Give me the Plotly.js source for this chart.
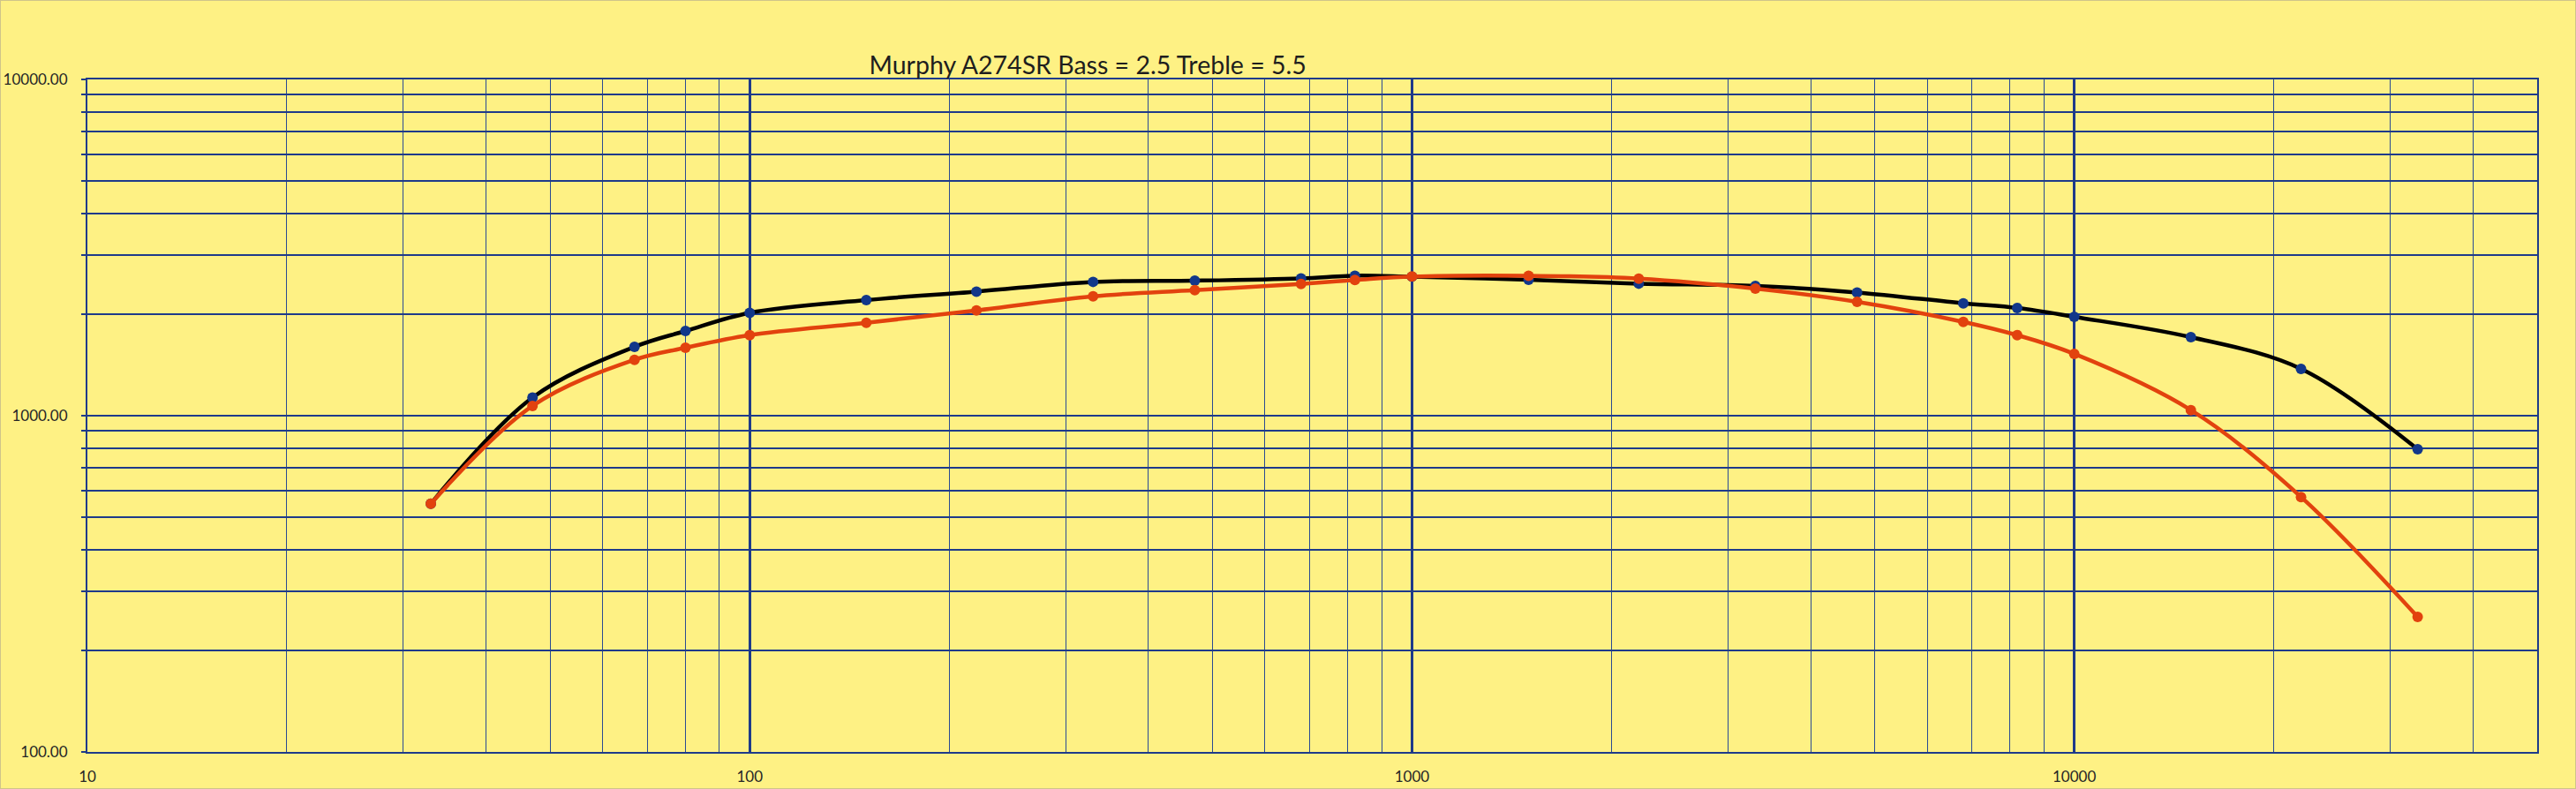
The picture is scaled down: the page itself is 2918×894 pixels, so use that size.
<!DOCTYPE html>
<html>
<head>
<meta charset="utf-8">
<script src="https://cdn.plot.ly/plotly-3.0.1.min.js"></script>
<style>
  html, body { margin: 0; padding: 0; background: #FEF184; }
  #wrap { width: 2916px; height: 892px; border: 1px solid #CFC58A; }
  #chart { width: 2916px; height: 892px; }
</style>
</head>
<body>
<div id="wrap"><div id="chart"></div></div>
<script>
// Frequency (Hz)
const freq = [33, 47, 67, 80, 100, 150, 220, 330, 470, 680, 820, 1000, 1500, 2200, 3300, 4700, 6800, 8200, 10000, 15000, 22000, 33000];
// Series 1 (black line, blue markers)
const seriesBlack = [547, 1132, 1602, 1786, 2023, 2207, 2339, 2500, 2521, 2561, 2608, 2590, 2537, 2470, 2432, 2325, 2159, 2091, 1968, 1712, 1378, 795];
// Series 2 (orange)
const seriesOrange = [547, 1069, 1466, 1592, 1736, 1890, 2057, 2265, 2363, 2466, 2531, 2593, 2608, 2557, 2388, 2181, 1901, 1736, 1527, 1039, 573, 252];

const titleText = 'Murphy A274SR Bass = 2.5 Treble = 5.5';

const gridColor = '#1E3A8A';
const fontFam = 'Lato, "Open Sans", sans-serif';

const traces = [
  {
    x: freq, y: seriesBlack, type: 'scatter', mode: 'lines+markers',
    line: { color: '#000000', width: 4.5, shape: 'spline', smoothing: 1 },
    marker: { color: '#12378A', size: 12 },
    showlegend: false, hoverinfo: 'x+y'
  },
  {
    x: freq, y: seriesOrange, type: 'scatter', mode: 'lines+markers',
    line: { color: '#E2420E', width: 4.5, shape: 'spline', smoothing: 1 },
    marker: { color: '#E2420E', size: 12 },
    showlegend: false, hoverinfo: 'x+y'
  }
];

const layout = {
  width: 2916, height: 892,
  paper_bgcolor: '#FEF184',
  plot_bgcolor: '#FEF184',
  margin: { l: 98, r: 43, t: 89, b: 41, pad: 0 },
  font: { family: fontFam, color: '#262626', size: 17 },
  title: {
    text: titleText,
    font: { family: fontFam, size: 28.5, color: '#1E1E1E' },
    x: 0.4222, xanchor: 'center', xref: 'container',
    y: 0.918, yanchor: 'middle', yref: 'container'
  },
  xaxis: {
    type: 'log',
    range: [1, Math.log10(50000)],
    dtick: 1,
    tickvals: [10, 100, 1000, 10000],
    ticktext: ['10', '100', '1000', '10000'],
    showgrid: true, gridcolor: gridColor, gridwidth: 3,
    minor: { dtick: 'D1', showgrid: true, gridcolor: '#2A4A93', gridwidth: 1, ticks: '' },
    ticks: '', ticklabelstandoff: 12,
    showline: true, linecolor: gridColor, linewidth: 2, mirror: true,
    zeroline: false,
    tickfont: { family: fontFam, size: 17, color: '#262626' }
  },
  yaxis: {
    type: 'log',
    range: [2, 4],
    dtick: 1,
    tickformat: '.2f',
    showgrid: true, gridcolor: gridColor, gridwidth: 2.5,
    minor: { dtick: 'D1', showgrid: true, gridcolor: gridColor, gridwidth: 2, ticks: 'outside', ticklen: 5, tickcolor: gridColor, tickwidth: 2 },
    ticks: 'outside', ticklen: 5, tickcolor: gridColor, tickwidth: 2,
    ticklabelstandoff: 12,
    showline: true, linecolor: gridColor, linewidth: 2, mirror: true,
    zeroline: false,
    tickfont: { family: fontFam, size: 17, color: '#262626' }
  }
};

Plotly.newPlot('chart', traces, layout, { staticPlot: true, displayModeBar: false });
</script>
</body>
</html>
